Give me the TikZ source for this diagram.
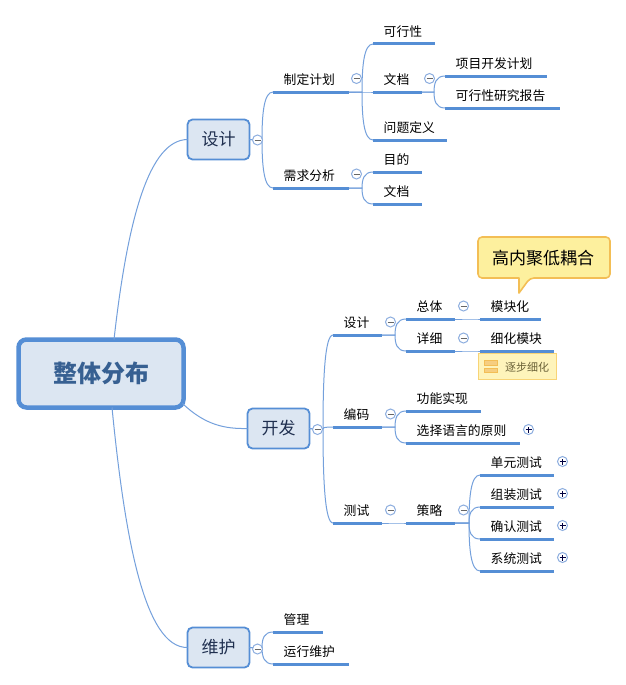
\documentclass[tikz,border=0pt]{standalone}
\usepackage{fontspec}
\setmainfont{Noto Sans CJK SC}
\usetikzlibrary{calc}
\definecolor{mblue}{HTML}{558ED5}
\definecolor{lblue}{HTML}{74A0DC}
\definecolor{bfill}{HTML}{DCE6F2}
\definecolor{btn}{HTML}{8DAEDF}
\definecolor{cfill}{HTML}{FDF09E}
\definecolor{cline}{HTML}{F3BE55}
\definecolor{rootc}{HTML}{376092}
\definecolor{boxtext}{HTML}{1F2F4F}
\definecolor{notetext}{HTML}{6B6238}
\tikzset{
  barnode/.style={fill=mblue,draw=none,inner sep=0pt,outer sep=0pt,minimum height=3pt,rectangle},
  toptext/.style={inner sep=0pt,anchor=west,font=\fontsize{12.8}{14}\selectfont,text=black},
  mainbox/.style={draw=mblue,fill=bfill,line width=1.8pt,rounded corners=5pt,minimum width=62pt,minimum height=40pt,inner sep=0pt,outer sep=0pt,font=\fontsize{17}{20}\selectfont,text=boxtext},
  rootbox/.style={draw=mblue,fill=bfill,line width=4.5pt,rounded corners=8pt,minimum width=165pt,minimum height=68pt,inner sep=0pt,outer sep=0pt,font=\fontsize{24}{28}\selectfont\bfseries,text=rootc},
  conn/.style={draw=lblue,line width=1pt},
  btnbase/.style={circle,draw=btn,fill=white,line width=1pt,minimum size=10pt,inner sep=0pt},
  minusbtn/.style={btnbase,path picture={\draw[line width=.9pt,draw=black!60] ($(path picture bounding box.center)+(-3pt,0)$)--($(path picture bounding box.center)+(3pt,0)$);}},
  plusbtn/.style={btnbase,path picture={\draw[line width=.9pt,draw=black!75!blue] ($(path picture bounding box.center)+(-3pt,0)$)--($(path picture bounding box.center)+(3pt,0)$) ($(path picture bounding box.center)+(0,-3pt)$)--($(path picture bounding box.center)+(0,3pt)$);}},
}
\newcommand{\topic}[5]{%
  \node[barnode,minimum width={(#3-#2)*1pt}] (#1) at ({(#2+#3)/2},#4) {};
  \node[toptext] (#1-t) at ({#2+10.5},{#4-12.3}) {#5};
}
% parent, child, distance of spine from the child
\newcommand{\branch}[3]{%
  \draw[conn] let \p1=(#1.east), \p2=(#2.west) in
    (\p1) -- (\x2-#3pt,\y1) .. controls (\x2-#3pt,\y1*0.45+\y2*0.55) and (\x2-#3pt+2pt,\y2) .. (\p2);
}
\begin{document}
\begin{tikzpicture}[x=1pt,y=-1pt]
\useasboundingbox[fill=white] (0,0) rectangle (626,685);
% main boxes
\node[rootbox] (root) at (101,373.5) {整体分布};
\node[mainbox] (sj) at (218.5,139.5) {设计};
\node[mainbox] (kf) at (278.5,428.5) {开发};
\node[mainbox] (wh) at (218.5,647.5) {维护};
% topics of design
\topic{zd}{273}{349}{92}{制定计划}
\topic{xq}{273}{349}{188}{需求分析}
\topic{kx}{373}{435}{44}{可行性}
\topic{wd}{373}{422}{92}{文档}
\topic{wt}{373}{447}{140}{问题定义}
\topic{md}{373}{422}{172}{目的}
\topic{wb}{373}{422}{204}{文档}
\topic{xm}{445}{547}{76}{项目开发计划}
\topic{yj}{445}{560}{108}{可行性研究报告}
% topics of development
\topic{ds}{333}{382}{335}{设计}
\topic{bm}{333}{382}{427}{编码}
\topic{cs}{333}{382}{523}{测试}
\topic{zt}{406}{455}{319}{总体}
\topic{xx}{406}{455}{351}{详细}
\topic{gn}{406}{481}{411}{功能实现}
\topic{xz}{406}{520}{443}{选择语言的原则}
\topic{cl}{406}{455}{523}{策略}
\topic{mk}{480}{541}{319}{模块化}
\topic{xh}{480}{554}{351}{细化模块}
\topic{dy}{480}{554}{475}{单元测试}
\topic{zz}{480}{554}{507}{组装测试}
\topic{qr}{480}{554}{539}{确认测试}
\topic{xt}{480}{554}{571}{系统测试}
% topics of maintenance
\topic{gl}{273}{323}{632}{管理}
\topic{yx}{273}{349}{664}{运行维护}
% connectors from the root
\draw[conn] (root.north) ++(13,0) coordinate (ra) .. controls (128,215) and (150,140) .. (sj.west);
\draw[conn] (root.south east) ++(-1,-4) coordinate (rb) .. controls (205,425) and (225,429) .. (kf.west);
\draw[conn] (root.south) ++(11,0) coordinate (rc) .. controls (125,540) and (145,648) .. (wh.west);
% branches
\branch{sj}{zd}{11}\branch{sj}{xq}{11}
\branch{zd}{kx}{11}\branch{zd}{wd}{11}\branch{zd}{wt}{11}
\branch{xq}{md}{11}\branch{xq}{wb}{11}
\branch{wd}{xm}{11}\branch{wd}{yj}{11}
\branch{kf}{ds}{10}\branch{kf}{bm}{10}\branch{kf}{cs}{10}
\branch{ds}{zt}{11}\branch{ds}{xx}{11}
\branch{zt}{mk}{11}\branch{xx}{xh}{11}
\branch{bm}{gn}{11}\branch{bm}{xz}{11}
\branch{cs}{cl}{11}
\branch{cl}{dy}{11}\branch{cl}{zz}{11}\branch{cl}{qr}{11}\branch{cl}{xt}{11}
\branch{wh}{gl}{11}\branch{wh}{yx}{11}
% collapse buttons
\node[minusbtn] (b1) at (257.5,140) {};
\node[minusbtn] (b2) at (356.5,78.5) {};
\node[minusbtn] (b3) at (429.5,78.5) {};
\node[minusbtn] (b4) at (356.5,174) {};
\node[minusbtn] (b5) at (317.5,429.5) {};
\node[minusbtn] (b6) at (390.5,322) {};
\node[minusbtn] (b7) at (390.5,414) {};
\node[minusbtn] (b8) at (390.5,510) {};
\node[minusbtn] (b9) at (463.5,306) {};
\node[minusbtn] (b10) at (463.5,338) {};
\node[minusbtn] (b11) at (463.5,510) {};
\node[minusbtn] (b12) at (257.5,649) {};
\node[plusbtn] (p1) at (528.5,429.5) {};
\node[plusbtn] (p2) at (562.5,461.5) {};
\node[plusbtn] (p3) at (562.5,493.5) {};
\node[plusbtn] (p4) at (562.5,525.5) {};
\node[plusbtn] (p5) at (562.5,557.5) {};
% callout
\draw[fill=cfill,draw=cline,line width=1.6pt,line join=round,rounded corners=4pt]
  (478,237) -- (610,237) -- (610,278) -- (530,278) [sharp corners] -- (519,293) -- (519,278) [rounded corners=4pt] -- (478,278) -- cycle;
\node[inner sep=0pt,font=\fontsize{17}{20}\selectfont,text=black] (call) at (543,258) {高内聚低耦合};
% note
\draw[fill=cfill!70!white,draw=cline!55!cfill,line width=.8pt] (478.5,353.5) rectangle (556.5,379.5);
\draw[fill=cline!75!white,draw=cline,line width=.7pt] (484.5,360.5) rectangle (497,365);
\draw[fill=cline!75!white,draw=cline,line width=.7pt] (484.5,368) rectangle (497,372);
\node[inner sep=0pt,anchor=west,font=\fontsize{11}{12}\selectfont,text=notetext] (note) at (505,367) {逐步细化};
\end{tikzpicture}
\end{document}
